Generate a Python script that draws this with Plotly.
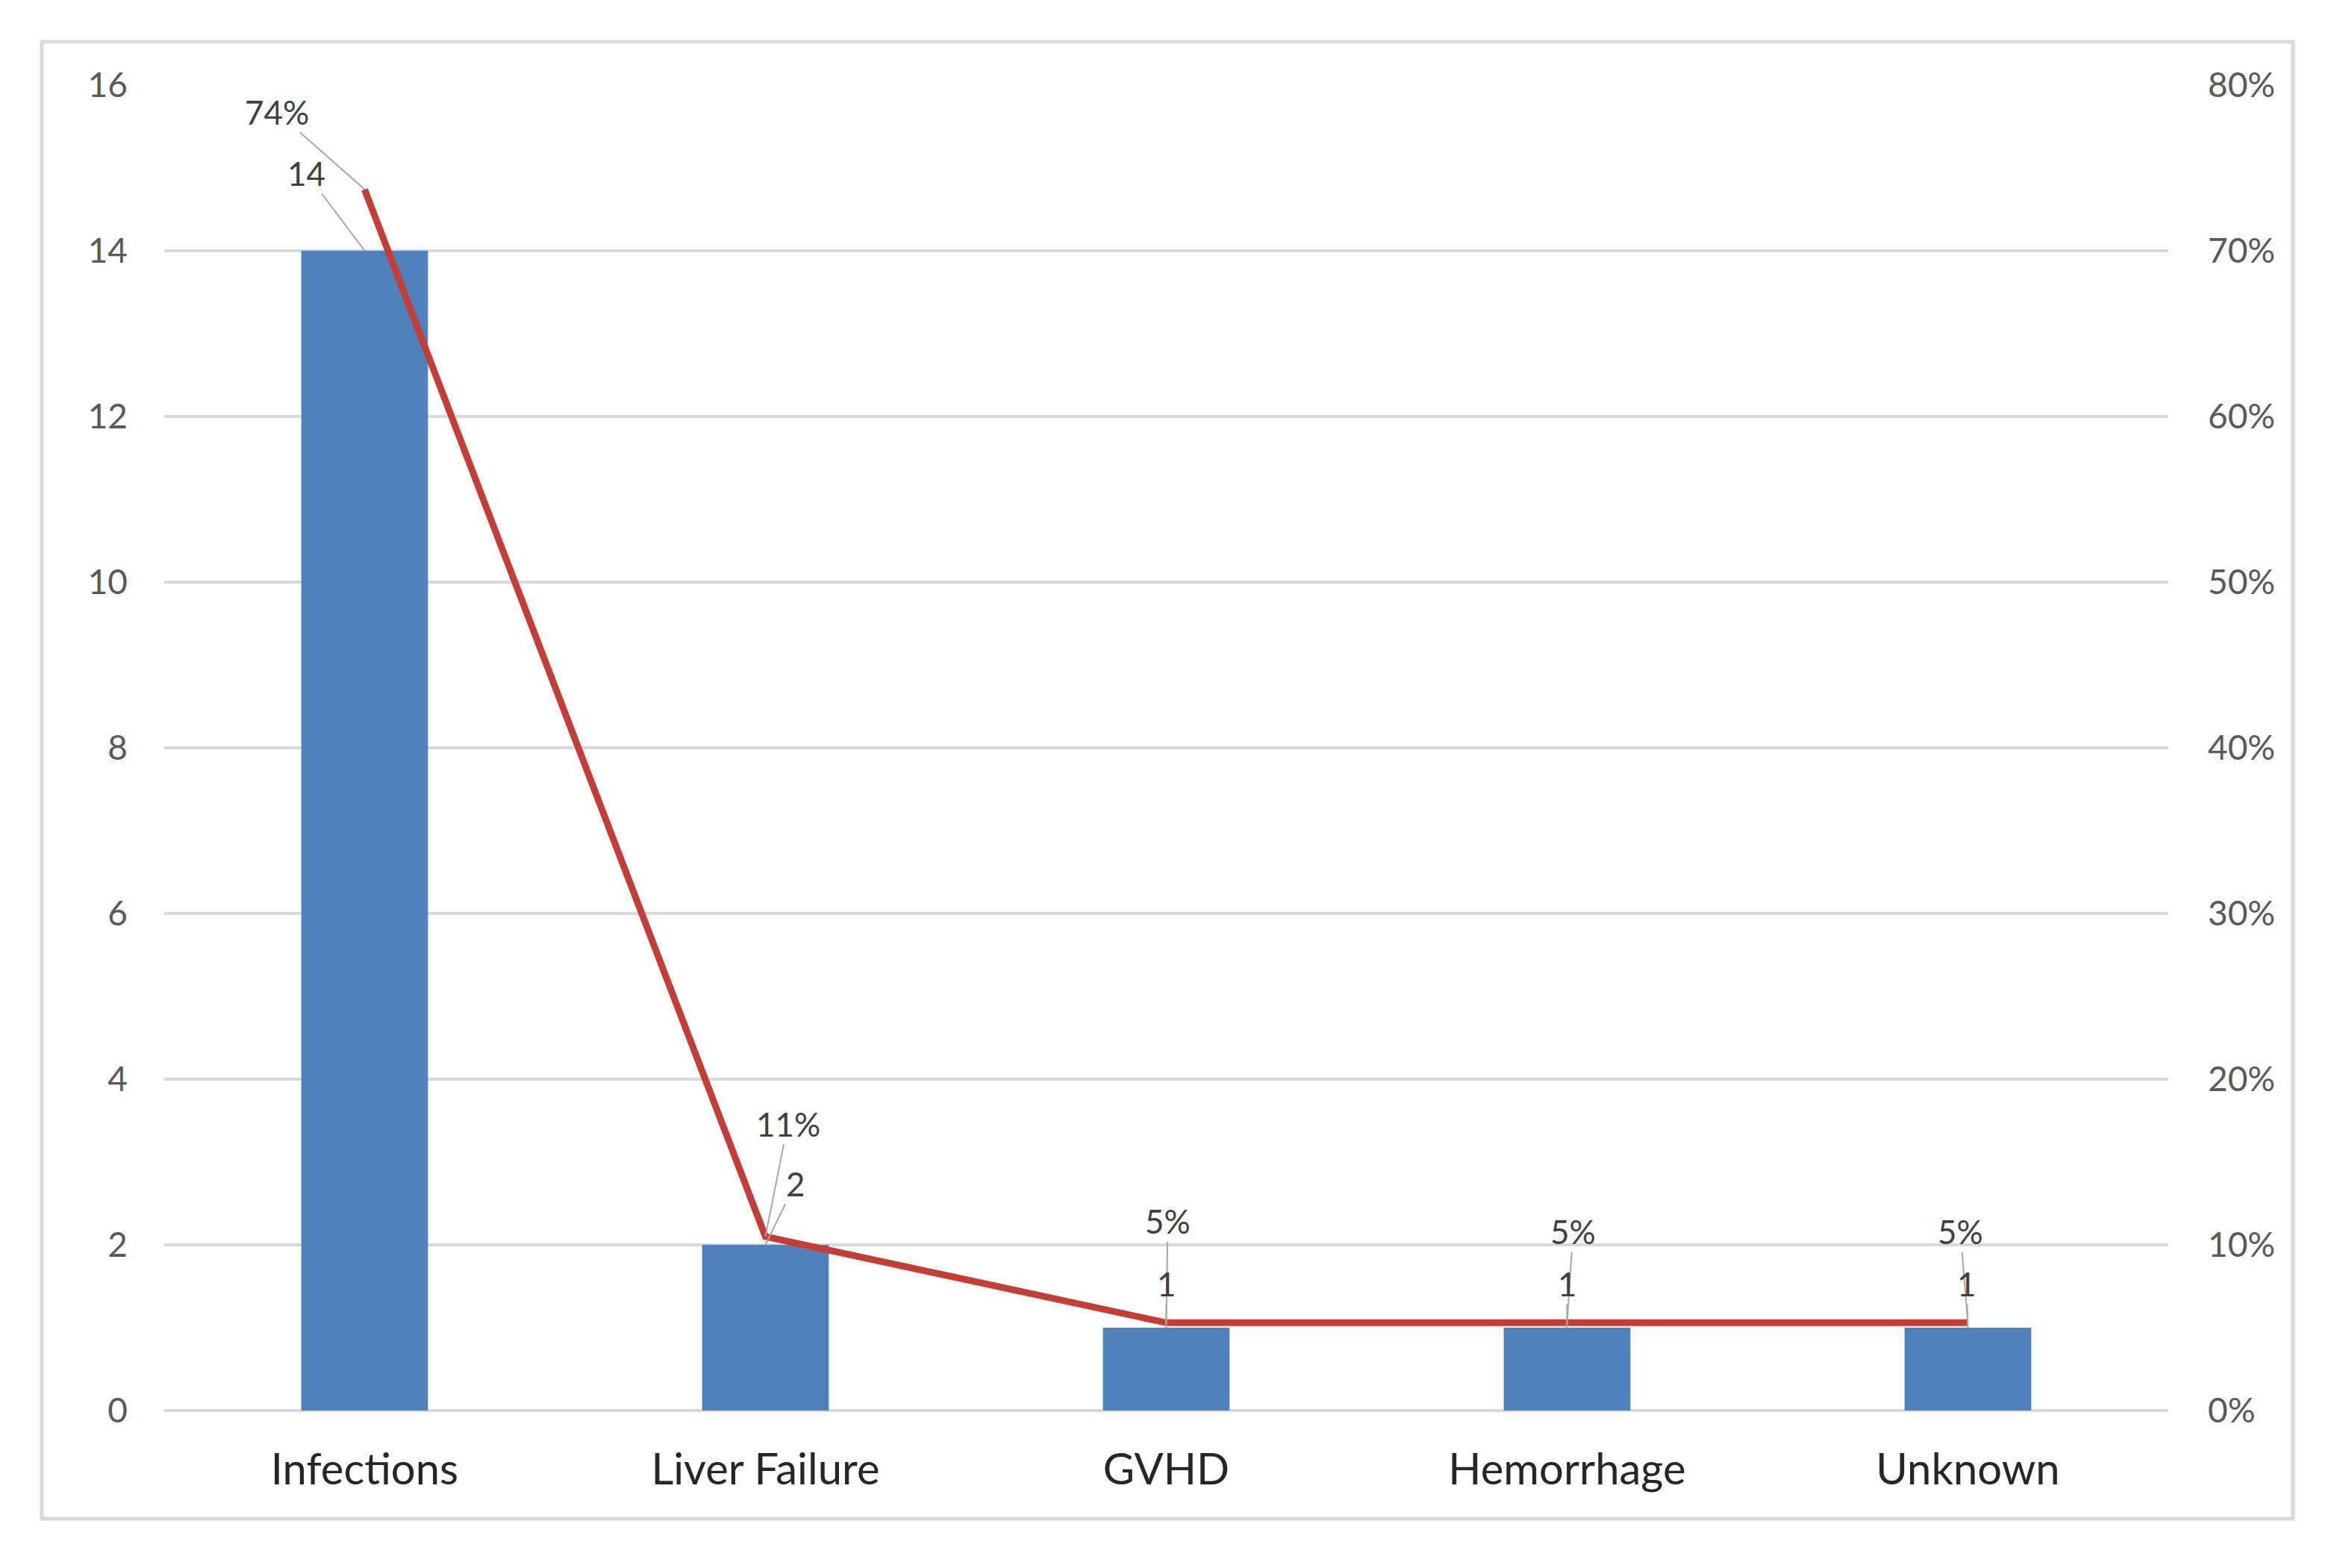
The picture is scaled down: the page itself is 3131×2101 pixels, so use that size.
import plotly.graph_objects as go

categories = ["Infections", "Liver Failure", "GVHD", "Hemorrhage", "Unknown"]
counts = [14, 2, 1, 1, 1]
shares = [0.737, 0.105, 0.053, 0.053, 0.053]
count_labels = ["14", "2", "1", "1", "1"]
share_labels = ["74%", "11%", "5%", "5%", "5%"]

BAR = "#4F81BD"
RED = "#C43D36"
GRID = "#D9D9D9"
FONT = "Lato"

fig = go.Figure()
fig.add_trace(go.Bar(x=categories, y=counts, marker_color=BAR, marker_line_width=0,
                     showlegend=False))
fig.add_trace(go.Scatter(x=categories, y=shares, yaxis="y2", mode="lines",
                         line=dict(color=RED, width=9), showlegend=False))

# leader-line label offsets (pixels)
share_off = [(-118, -104), (30, -151), (2, -136), (8, -122), (-10, -122)]
count_off = [(-78, -104), (40, -82), (0, -59), (0, -59), (-2, -59)]

ann = []
for i, c in enumerate(categories):
    ax, ay = share_off[i]
    ann.append(dict(x=c, y=shares[i], xref="x", yref="y2", text=share_labels[i],
                    showarrow=True, arrowhead=0, arrowwidth=2, arrowcolor="#A6A6A6",
                    ax=ax, ay=ay, font=dict(family=FONT, size=44, color="#404040")))
    ax, ay = count_off[i]
    ann.append(dict(x=c, y=counts[i], xref="x", yref="y", text=count_labels[i],
                    showarrow=True, arrowhead=0, arrowwidth=2, arrowcolor="#A6A6A6",
                    ax=ax, ay=ay, font=dict(family=FONT, size=44, color="#404040")))

fig.update_layout(
    width=3131, height=2101, autosize=False,
    margin=dict(l=212, r=234, t=106, b=219),
    paper_bgcolor="white", plot_bgcolor="white",
    bargap=0.684,
    font=dict(family=FONT),
    xaxis=dict(showgrid=False, showline=False, ticks="", zeroline=False,
               tickfont=dict(family=FONT, size=58, color="#262626"),
               ticklabelstandoff=40),
    yaxis=dict(range=[0, 16], dtick=2, showgrid=True, gridcolor=GRID, gridwidth=4,
               zeroline=True, zerolinecolor=GRID, zerolinewidth=4, showline=False,
               ticks="", tickfont=dict(family=FONT, size=46, color="#595959"),
               ticklabelstandoff=48),
    yaxis2=dict(range=[0, 0.8], dtick=0.1, tickformat=".0%", overlaying="y",
                side="right", showgrid=False, zeroline=False, showline=False, ticks="",
                tickfont=dict(family=FONT, size=46, color="#595959"),
                ticklabelstandoff=52),
    annotations=ann,
    shapes=[dict(type="rect", xref="paper", yref="paper", x0=-0.0611, x1=1.0622,
                 y0=-0.0816, y1=1.0327, line=dict(color=GRID, width=5),
                 layer="below")],
)

fig.write_html("out.html")
